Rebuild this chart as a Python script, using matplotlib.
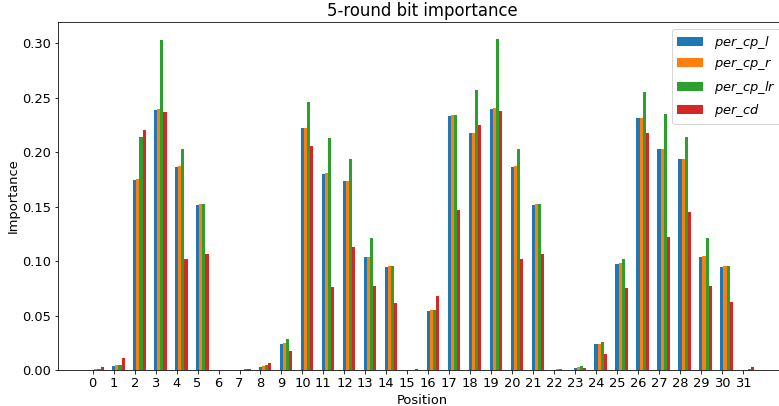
import numpy as np
import matplotlib
matplotlib.use("Agg")
import matplotlib.pyplot as plt

positions = list(range(32))

per_cp_l = [0.0000, 0.0037, 0.1750, 0.2391, 0.1866, 0.1519, 0.0000, 0.0002,
            0.0028, 0.0239, 0.2219, 0.1805, 0.1740, 0.1040, 0.0948, 0.0000,
            0.0546, 0.2335, 0.2179, 0.2400, 0.1866, 0.1519, 0.0002, 0.0018,
            0.0239, 0.0973, 0.2314, 0.2026, 0.1937, 0.1040, 0.0948, 0.0000]
per_cp_r = [0.0006, 0.0043, 0.1752, 0.2394, 0.1878, 0.1528, 0.0000, 0.0004,
            0.0034, 0.0252, 0.2222, 0.1811, 0.1740, 0.1040, 0.0954, 0.0000,
            0.0552, 0.2342, 0.2182, 0.2403, 0.1878, 0.1528, 0.0005, 0.0028,
            0.0239, 0.0979, 0.2317, 0.2032, 0.1940, 0.1047, 0.0954, 0.0004]
per_cp_lr = [0.0008, 0.0043, 0.2139, 0.3035, 0.2026, 0.1528, 0.0000, 0.0009,
             0.0046, 0.0282, 0.2459, 0.2127, 0.1943, 0.1215, 0.0951, 0.0000,
             0.0549, 0.2342, 0.2569, 0.3045, 0.2026, 0.1528, 0.0005, 0.0034,
             0.0255, 0.1019, 0.2557, 0.2354, 0.2142, 0.1215, 0.0954, 0.0005]
per_cd = [0.0030, 0.0107, 0.2207, 0.2372, 0.1022, 0.1068, 0.0000, 0.0012,
          0.0068, 0.0175, 0.2059, 0.0758, 0.1133, 0.0773, 0.0614, 0.0005,
          0.0681, 0.1473, 0.2247, 0.2376, 0.1022, 0.1065, 0.0000, 0.0018,
          0.0147, 0.0752, 0.2173, 0.1218, 0.1452, 0.0773, 0.0626, 0.0028]

series = [per_cp_l, per_cp_r, per_cp_lr, per_cd]
labels = [r'$per\_cp\_l$', r'$per\_cp\_r$', r'$per\_cp\_lr$', r'$per\_cd$']

plt.rcParams['font.size'] = 13

# drawn at 72 dpi, axes run a little past the right edge like the original
fig = plt.figure(figsize=(779 / 72, 406 / 72), dpi=72)
ax = fig.add_axes([58 / 779, 1 - 370 / 406, (787 - 58) / 779, (370 - 22) / 406])

x = np.arange(len(positions))
w = 0.15
for k, (vals, lab) in enumerate(zip(series, labels)):
    ax.bar(x + k * w, vals, width=w, label=lab)

ax.set_xticks(x)
ax.set_xticklabels([str(p) for p in positions])
ax.set_xlabel('Position')
ax.set_ylabel('Importance', labelpad=2)
ax.set_title('5-round bit importance', fontsize=16.5)
ax.legend(loc='upper right')

fig.savefig('out.png', dpi=72)
